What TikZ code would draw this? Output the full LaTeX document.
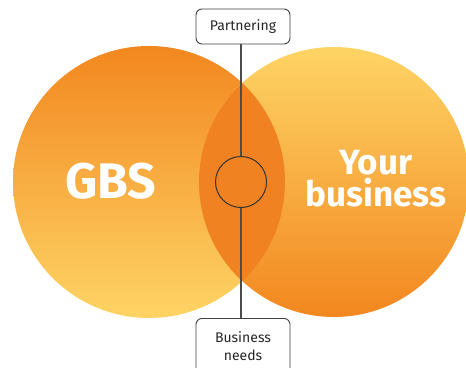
\documentclass[tikz,border=0pt]{standalone}
\usepackage{fontspec}
\setmainfont{Fira Sans}
\begin{document}
\begin{tikzpicture}[x=1pt,y=-1pt,
  boxlabel/.style={draw=black!75,line width=0.9pt,rounded corners=6pt,fill=white,
    text=black!85,font=\fontsize{14}{16}\selectfont,align=center,inner sep=0pt},
  conn/.style={draw=black!70,line width=1.1pt},
  bigtext/.style={text=white,font=\bfseries,align=center}]
\definecolor{orDark}{HTML}{F2871F}
\definecolor{orLight}{HTML}{FED465}
\definecolor{orMid}{HTML}{F08221}
\useasboundingbox (0,0) rectangle (466,367);
\clip (0,0) rectangle (466,367);
\shade[top color=orDark,bottom color=orLight] (149,182) circle[radius=136];
\shade[top color=orLight,bottom color=orDark] (334,182) circle[radius=135];
\begin{scope}
  \clip (149,182) circle[radius=136];
  \fill[orMid] (334,182) circle[radius=135];
\end{scope}
\node[bigtext,font=\fontsize{50}{50}\selectfont\bfseries] (gbs) at (111,181) {GBS};
\node[bigtext,font=\fontsize{35}{32}\selectfont\bfseries] (yb) at (376,179) {Your\\business};
\node[circle,draw=black!80,line width=1pt,minimum size=51pt,inner sep=0pt] (circ) at (241,182) {};
\node[boxlabel,minimum width=94pt,minimum height=35pt] (top) at (243,26.5) {Partnering};
\node[boxlabel,minimum width=94pt,minimum height=56pt,anchor=north,
  font=\fontsize{14}{18}\selectfont] (bot) at (243,318) {Business\\needs};
\draw[conn] (circ.north) -- (circ.north |- top.south);
\draw[conn] (circ.south) -- (circ.south |- bot.north);
\end{tikzpicture}
\end{document}
